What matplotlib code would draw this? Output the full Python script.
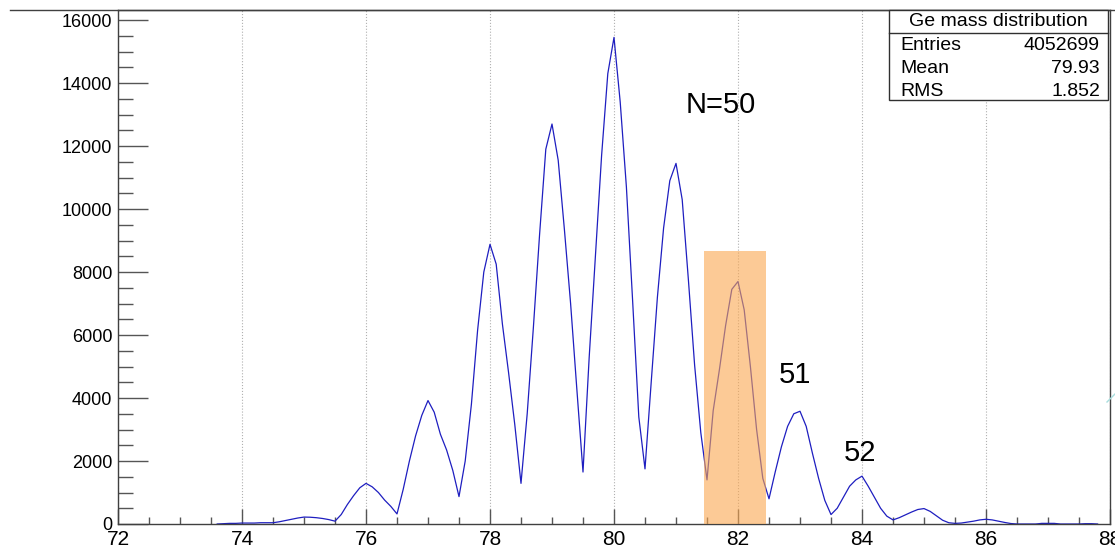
import numpy as np
import matplotlib.pyplot as plt
from matplotlib.patches import Rectangle
from matplotlib.lines import Line2D
from matplotlib.ticker import MultipleLocator

plt.rcParams['font.family'] = ['Liberation Sans', 'DejaVu Sans']

W, H = 1115, 545  # canvas in pixels

# Ge mass distribution, every 0.1 (starts at 73.6)
mass_start = 73.6
counts = [0, 10, 20, 20, 30, 30, 30, 40, 40, 40,                    # 73.6 - 74.5
          70, 110, 150, 190, 220, 215, 200, 175, 140, 90,            # 74.6 - 75.5
          300, 620, 900, 1150, 1290, 1180, 1000, 760, 560, 320,      # 75.6 - 76.5
          1100, 2000, 2800, 3450, 3920, 3550, 2850, 2350, 1700, 870, # 76.6 - 77.5
          2000, 3800, 6150, 8000, 8880, 8250, 6350, 4800, 3150, 1290,
          3500, 6250, 9200, 11900, 12700, 11550, 9350, 7000, 4300, 1650,
          5300, 8500, 11700, 14300, 15450, 13400, 10700, 7100, 3400, 1750,
          4500, 7200, 9400, 10900, 11450, 10300, 7750, 5050, 2900, 1400,
          3600, 4900, 6300, 7450, 7700, 6800, 5000, 3000, 1450, 800,
          1650, 2450, 3100, 3500, 3580, 3100, 2250, 1450, 750, 300,
          500, 850, 1200, 1400, 1520, 1200, 850, 500, 250, 130,
          200, 290, 380, 460, 490, 400, 260, 120, 40, 20,
          30, 60, 90, 130, 150, 130, 90, 50, 15, 0,                  # 85.6 - 86.5
          0, 0, 0, 20, 20, 20, 0, 0, 0, 0, 10, 10, 0]               # 86.6 - 87.8
mass = mass_start + 0.1 * np.arange(len(counts))

# highlighted N=50 band
band_lo, band_hi, band_top = 81.45, 82.45, 8670

labels = ['N=50', '51', '52']
label_x = [81.15, 82.66, 83.71]
label_y = [13050, 4480, 2010]

stats_title = 'Ge mass distribution'
stats_names = ['Entries', 'Mean', 'RMS']
stats_values = ['4052699', '79.93', '1.852']


def fx(px):
    return px / W


def fy(py):
    return 1 - py / H


fig = plt.figure(figsize=(W / 100, H / 100), dpi=100)
ax = fig.add_axes([fx(118), fy(524), fx(1110) - fx(118), fy(10) - fy(524)])

ax.plot(mass, counts, color='#1e1ec0', lw=0.9, zorder=2)
ax.add_patch(Rectangle((band_lo, 0), band_hi - band_lo, band_top,
                       facecolor='#faa750', alpha=0.6, edgecolor='none', zorder=3))

for t, x, y in zip(labels, label_x, label_y):
    ax.text(x, y, t, fontsize=21, ha='left', va='baseline', zorder=4)

ax.set_xlim(72, 88)
ax.set_ylim(0, 16320)
ax.xaxis.set_major_locator(MultipleLocator(2))
ax.xaxis.set_minor_locator(MultipleLocator(0.5))
ax.yaxis.set_major_locator(MultipleLocator(2000))
ax.yaxis.set_minor_locator(MultipleLocator(500))
ax.tick_params(axis='x', which='major', direction='in', length=10.8, width=1,
               color='#555555', labelsize=15, pad=4)
ax.tick_params(axis='x', which='minor', direction='in', length=5.4, width=1, color='#555555')
ax.tick_params(axis='y', which='major', direction='in', length=21.6, width=1,
               color='#555555', labelsize=13, pad=4)
ax.tick_params(axis='y', which='minor', direction='in', length=10.6, width=1, color='#555555')
ax.grid(axis='x', which='major', linestyle=':', color='#b0b0b0', lw=0.8, zorder=1)
for s in ax.spines.values():
    s.set_color('#404040')
    s.set_linewidth(1)

# canvas top border
fig.add_artist(Line2D([fx(10), 1], [fy(10), fy(10)], color='#404040', lw=1))

# stats box
fig.add_artist(Rectangle((fx(889), fy(100)), fx(1108) - fx(889), fy(10) - fy(100),
                         transform=fig.transFigure, facecolor='white',
                         edgecolor='#303030', lw=1, zorder=5))
fig.add_artist(Line2D([fx(889), fx(1108)], [fy(33), fy(33)], color='#303030', lw=1, zorder=6))
fig.text(fx(998), fy(22), stats_title, fontsize=14, ha='center', va='center', zorder=7)
for i, (n, v) in enumerate(zip(stats_names, stats_values)):
    yy = fy(46 + 22.5 * i)
    fig.text(fx(900), yy, n, fontsize=14, ha='left', va='center', zorder=7)
    fig.text(fx(1100), yy, v, fontsize=14, ha='right', va='center', zorder=7)

# small mark at right edge
fig.add_artist(Line2D([fx(1107), fx(1115)], [fy(402), fy(394)], color='#a8dede', lw=1))

fig.savefig('out.png', dpi=100)
